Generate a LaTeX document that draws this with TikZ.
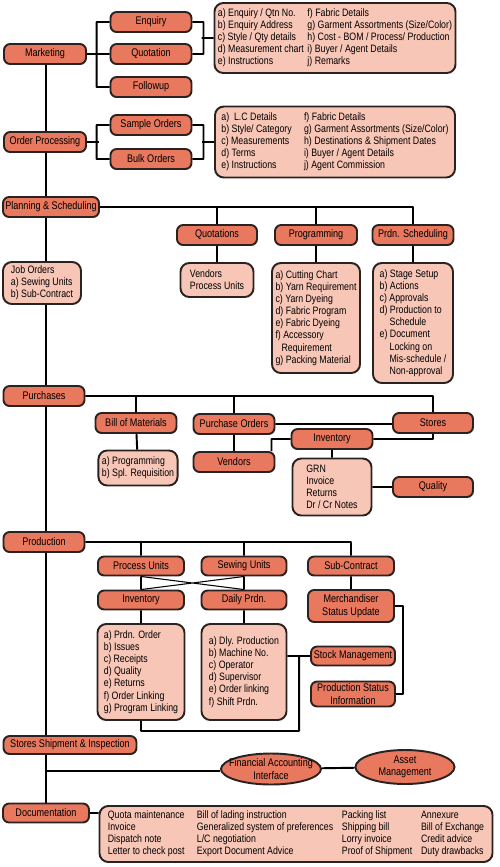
\documentclass[tikz,border=0pt]{standalone}
\usepackage{fontspec}
\setmainfont{Liberation Sans}[FakeStretch=0.82]
\usetikzlibrary{positioning, shapes.geometric}

\newlength\pxu
\setlength\pxu{0.02cm}
\definecolor{topicfill}{HTML}{E8785E}
\definecolor{notefill}{HTML}{F8C6B6}
\definecolor{edge}{HTML}{2A2220}

\tikzset{
    topic/.style={draw=edge, fill=topicfill, rounded corners=3.5pt, line width=1.1pt,
        minimum width=81\pxu, minimum height=20\pxu, inner sep=1pt, align=center,
        font=\fontsize{6.3}{7.2}\selectfont},
    note/.style={draw=edge, fill=notefill, rounded corners=5pt, line width=1.1pt,
        inner sep=2pt, align=left, font=\fontsize{6.1}{6.9}\selectfont},
    blob/.style={ellipse, draw=edge, fill=topicfill, line width=1.1pt, inner sep=0pt},
    wire/.style={line width=1.1pt, line join=round},
}

\begin{document}
\begin{tikzpicture}[x=0.02cm, y=-0.02cm, on grid, node distance=40\pxu]
    \useasboundingbox (0,0) rectangle (500,867);
    \coordinate (spine) at (46,0);

    % marketing
    \node[topic, minimum width=82\pxu] (mk) at (45,54) {Marketing};
    \node[topic] (enq) at (151,22) {Enquiry};
    \node[topic] (quo) [below=32\pxu of enq] {Quotation};
    \node[topic] (fol) [below=33\pxu of quo] {Followup};
    \node[note, minimum width=240\pxu, minimum height=70\pxu] (mkinfo) at (335,38) {%
        \begin{tabular}{@{}l@{\hspace{2pt}}l@{}}
        a) Enquiry / Qtn No. & f) Fabric Details\\
        b) Enquiry Address & g) Garment Assortments (Size/Color)\\
        c) Style / Qty details & h) Cost - BOM / Process/ Production\\
        d) Measurement chart & i) Buyer / Agent Details\\
        e) Instructions & j) Remarks
        \end{tabular}};

    % order processing
    \node[topic, minimum width=82\pxu] (op) at (45,142) {Order Processing};
    \node[topic] (so) at (151,125) {Sample Orders};
    \node[topic] (bo) [below=34\pxu of so] {Bulk Orders};
    \node[note, minimum width=240\pxu, minimum height=71\pxu] (opinfo) at (335,142) {%
        \begin{tabular}{@{}l@{\hspace{7pt}}l@{}}
        a)\ \ L.C Details & f) Fabric Details\\
        b) Style/ Category & g) Garment Assortments (Size/Color)\\
        c) Measurements & h) Destinations \& Shipment Dates\\
        d) Terms & i) Buyer / Agent Details\\
        e) Instructions & j) Agent Commission
        \end{tabular}};

    % planning
    \node[topic, minimum width=96\pxu] (ps) at (51,207) {Planning \& Scheduling};
    \node[note, minimum width=78\pxu, minimum height=42\pxu] (jo) at (42,283)
        {Job Orders\\a) Sewing Units\\b) Sub-Contract};
    \node[topic, minimum width=80\pxu] (quots) at (217,235) {Quotations};
    \node[note, minimum width=73\pxu, minimum height=34\pxu] (vpu) [below=45\pxu of quots]
        {Vendors\\Process Units};
    \node[topic, minimum width=82\pxu] (prog) at (316,235) {Programming};
    \node[note, minimum width=88\pxu, minimum height=110\pxu] (progd) [below=83\pxu of prog]
        {a) Cutting Chart\\b) Yarn Requirement\\c) Yarn Dyeing\\d) Fabric Program\\
         e) Fabric Dyeing\\f) Accessory\\\hspace*{6\pxu}Requirement\\g) Packing Material};
    \node[topic] (psch) at (413,235) {Prdn. Scheduling};
    \node[note, minimum width=80\pxu, minimum height=120\pxu] (pschd) [below=88\pxu of psch]
        {a) Stage Setup\\b) Actions\\c) Approvals\\d) Production to\\\hspace*{10\pxu}Schedule\\
         e) Document\\\hspace*{10\pxu}Locking on\\\hspace*{10\pxu}Mis-schedule /\\
         \hspace*{10\pxu}Non-approval};

    % purchases
    \node[topic] (pur) at (44,396) {Purchases};
    \node[topic] (bom) at (136,423) {Bill of Materials};
    \node[note, minimum width=78\pxu, minimum height=35\pxu] (bomd) at (138,468)
        {a) Programming\\b) Spl. Requisition};
    \node[topic] (po) at (234,424) {Purchase Orders};
    \node[topic] (ven) [below=38\pxu of po] {Vendors};
    \node[topic, minimum width=80\pxu] (stores) at (433,423) {Stores};
    \node[topic] (inv) at (332,439) {Inventory};
    \node[note, minimum width=79\pxu, minimum height=57\pxu] (grn) [below=48\pxu of inv]
        {GRN\\Invoice\\Returns\\Dr / Cr Notes};
    \node[topic, minimum width=80\pxu] (qual) [right=101\pxu of grn] {Quality};

    % production
    \node[topic] (prod) at (44,542) {Production};
    \node[topic, minimum width=86\pxu, minimum height=19\pxu] (pu) at (141,566) {Process Units};
    \node[topic, minimum width=85\pxu, minimum height=19\pxu] (su) at (244,566) {Sewing Units};
    \node[topic, minimum width=86\pxu, minimum height=19\pxu] (sub) at (351,566) {Sub-Contract};
    \node[topic, minimum width=86\pxu, minimum height=19\pxu] (inv2) [below=34\pxu of pu] {Inventory};
    \node[topic, minimum width=85\pxu, minimum height=19\pxu] (dp) [below=34\pxu of su] {Daily Prdn.};
    \node[topic, minimum width=86\pxu, minimum height=32\pxu] (merch) [below=40\pxu of sub]
        {Merchandiser\\Status Update};
    \node[note, minimum width=87\pxu, minimum height=96\pxu] (inv2d) [below=72\pxu of inv2]
        {a) Prdn. Order\\b) Issues\\c) Receipts\\d) Quality\\e) Returns\\f) Order Linking\\
         g) Program Linking};
    \node[note, minimum width=85\pxu, minimum height=96\pxu] (dpd) [below=72\pxu of dp]
        {a) Dly. Production\\b) Machine No.\\c) Operator\\d) Supervisor\\e) Order linking\\
         f) Shift Prdn.};
    \node[topic, minimum width=84\pxu, minimum height=19\pxu] (stock) at (353,656) {Stock Management};
    \node[topic, minimum width=84\pxu, minimum height=25\pxu] (psi) at (353,694)
        {Production Status\\Information};

    % shipment and documentation
    \node[topic, minimum width=133\pxu, minimum height=18\pxu] (ssi) at (70,745)
        {Stores Shipment \& Inspection};
    \node[blob, minimum width=100\pxu, minimum height=31\pxu,
        label={[align=center, font=\fontsize{6.3}{7.2}\selectfont]center:Financial Accounting\\Interface}]
        (fai) at (271,769) {};
    \node[blob, minimum width=99\pxu, minimum height=34\pxu,
        label={[align=center, font=\fontsize{6.3}{7.2}\selectfont]center:Asset\\Management}]
        (am) at (405,767) {};
    \node[topic, minimum width=86\pxu, minimum height=19\pxu] (doc) at (46,813) {Documentation};
    \node[note, minimum width=393\pxu, minimum height=56\pxu] (docd) at (296,834) {%
        \begin{tabular}{@{}l@{\hspace{7pt}}l@{\hspace{5pt}}l@{\hspace{5pt}}l@{}}
        Quota maintenance & Bill of lading instruction & Packing list & Annexure\\
        Invoice & Generalized system of preferences & Shipping bill & Bill of Exchange\\
        Dispatch note & L/C negotiation & Lorry invoice & Credit advice\\
        Letter to check post & Export Document Advice & Proof of Shipment & Duty drawbacks
        \end{tabular}};

    % main line
    \foreach \a/\b in {mk/op, op/ps, ps/jo, jo/pur, pur/prod, prod/ssi, ssi/doc}
        \draw[wire] (spine |- \a.south) -- (spine |- \b.north);

    \path[wire, draw]
    (enq.west) -- ++(-13,0) |- (fol.west)
    (mk.east) -- (quo.west)
    (enq.east) -- ++(11,0) |- (quo.east)
    (mkinfo.west) -- ++(-12,0)
    (so.west) -- ++(-13,0) |- (bo.west)
    (op.east) -- ++(12,0)
    (so.east) -- ++(11,0) |- (bo.east)
    (opinfo.west) -- ++(-12,0)
    (ps.east) -| (psch.north)
    (quots.north) -- (quots.north |- ps.east)
    (prog.north) -- (prog.north |- ps.east)
    (quots) -- (vpu)
    (prog) -- (progd)
    (psch) -- (pschd)
    (pur.east) -| (stores.north)
    (bom.north) -- (bom.north |- pur.east)
    (po.north) -- (po.north |- pur.east)
    (bom) -- (bomd)
    (po) -- (ven)
    (po.east) -- (po.east -| stores.west)
    (stores.south) |- (inv.east)
    (inv.west) -| ([xshift=-4\pxu]ven.north east)
    (inv) -- (grn)
    (grn) -- (qual)
    (prod.east) -| (sub.north)
    (pu.north) -- (pu.north |- prod.east)
    (su.north) -- (su.north |- prod.east)
    (pu) -- (inv2)
    (su) -- (dp)
    (sub) -- (merch)
    (inv2) -- (inv2d)
    (dp) -- (dpd)
    (stock.west) -- (stock.west -| dpd.east)
    (inv2d.south) -- ++(0,10) -| ([xshift=-11\pxu]stock.west)
    (merch.east) -- ++(8,0) |- (psi.east)
    (spine |- 0,771) -- (fai.west |- 0,771)
    (fai) -- (am)
    (doc.east) -- (doc.east -| docd.west);
    \draw[line width=0.6pt] (pu.south) -- (dp.north) (su.south) -- (inv2.north);
\end{tikzpicture}
\end{document}
